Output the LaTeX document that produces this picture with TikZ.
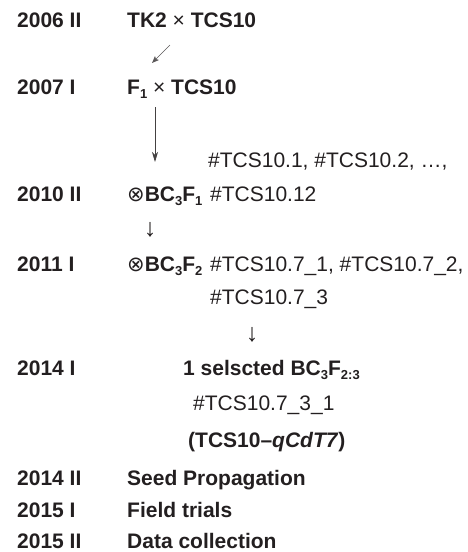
\documentclass[tikz,border=0pt]{standalone}
\usepackage{fontspec}
\setmainfont{Liberation Sans}
\newfontfamily\dejavu{DejaVu Sans}
\usetikzlibrary{arrows.meta}
\definecolor{ink}{HTML}{231F20}
\newcommand{\sbs}[1]{\raisebox{-0.4ex}{\fontsize{13}{13}\selectfont #1}}
\newcommand{\selfed}{{\dejavu\mdseries\fontsize{21}{21}\selectfont ⊗}}
\newcommand{\crossed}{{\mdseries ×}}

\begin{document}
\begin{tikzpicture}[x=1pt,y=-1pt,
every node/.style={inner sep=0pt,text=ink,font=\fontsize{21}{25}\selectfont},
year/.style={anchor=base west,font=\fontsize{21}{25}\selectfont\bfseries},
entry/.style={anchor=base west},
down/.style={font=\fontsize{25}{25}\selectfont},
flow/.style={draw=ink!85,line width=0.8pt,-{Stealth[length=10pt,width=6pt,inset=3pt]}},
flow small/.style={draw=ink!75,line width=0.7pt,-{Stealth[length=7pt,width=5.5pt,inset=1.5pt]}}
]
\useasboundingbox (0,0) rectangle (468,552);

% years
\node[year] (y1) at (17,27.5) {2006 II};
\node[year] (y2) at (17,94.5) {2007 I};
\node[year] (y3) at (17,201.5) {2010 II};
\node[year] (y4) at (17,271.5) {2011 I};
\node[year] (y5) at (17,375.5) {2014 I};
\node[year] (y6) at (17,485.5) {2014 II};
\node[year] (y7) at (17,517.5) {2015 I};
\node[year] (y8) at (17,548) {2015 II};

% crosses and generations
\node[year] (c1) at (127,27.5) {TK2 \crossed{} TCS10};
\node[year] (c2) at (127,94.5) {F\sbs{1} \crossed{} TCS10};
\node[year] (c3) at (127,201.5) {\selfed BC\sbs{3}F\sbs{1}};
\node[year] (c4) at (127,271.5) {\selfed BC\sbs{3}F\sbs{2}};
\node[year] (c5) at (183,375.5) {1 selscted BC\sbs{3}F\sbs{2:3}};
\node[year] (c6) at (127,485.5) {Seed Propagation};
\node[year] (c7) at (127,517.5) {Field trials};
\node[year] (c8) at (127,548) {Data collection};

% line numbers
\node[entry] (n1) at (208,167.5) {\#TCS10.1, \#TCS10.2, …,};
\node[entry] (n2) at (210,201.5) {\#TCS10.12};
\node[entry] (n3) at (210,271.5) {\#TCS10.7\_1, \#TCS10.7\_2,};
\node[entry] (n4) at (210,304.5) {\#TCS10.7\_3};
\node[entry] (n5) at (193,410.5) {\#TCS10.7\_3\_1};
\node[year] (n6) at (188,447.5) {(TCS10–\textit{qCdT7})};

% arrows
\node[down] (a1) at (150,230) {↓};
\node[down] (a2) at (252,335) {↓};
\coordinate (d1) at (170,45);
\coordinate (d2) at (152,63);
\coordinate (v1) at (155,107);
\coordinate (v2) at (155,162);
\draw[flow small] (d1) -- (d2);
\draw[flow] (v1) -- (v2);
\end{tikzpicture}
\end{document}
